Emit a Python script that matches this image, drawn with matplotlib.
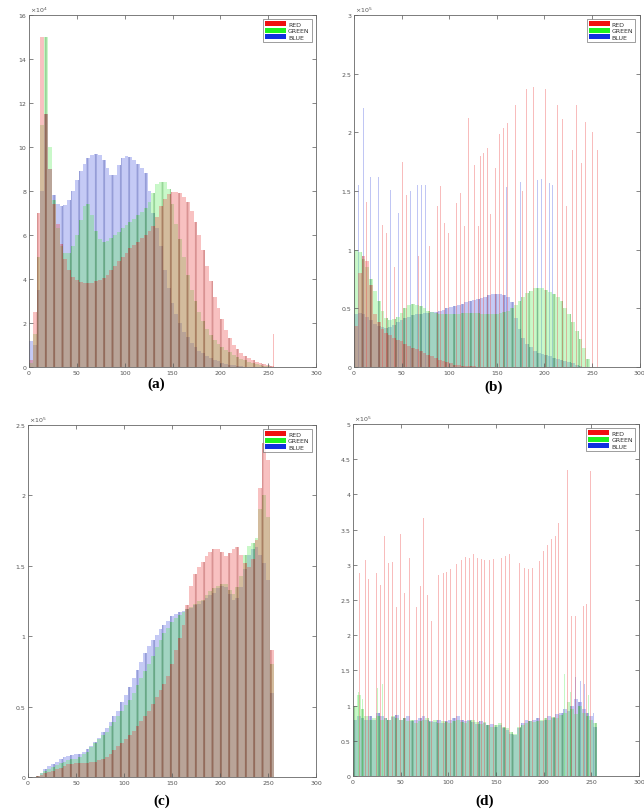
import numpy as np
import matplotlib
matplotlib.use('Agg')
import matplotlib.pyplot as plt
from matplotlib.patches import Patch

# ---------------- data ----------------
# intensity levels (groups of 4 grey levels); values = counts per level
bins4 = np.arange(0, 256, 4)

# (a)  units of 1e4
a_red = [0.3, 2.5, 7.0, 15.0, 11.5, 9.0, 7.4, 6.5,
         5.6, 4.9, 4.4, 4.1, 3.95, 3.85, 3.8, 3.8,
         3.82, 3.9, 3.95, 4.05, 4.2, 4.4, 4.6, 4.8,
         5.0, 5.2, 5.4, 5.55, 5.7, 5.85, 6.0, 6.2,
         6.4, 6.8, 7.3, 7.65, 7.85, 7.95, 7.95, 7.9,
         7.75, 7.5, 7.1, 6.6, 6.0, 5.3, 4.6, 3.9,
         3.2, 2.7, 2.2, 1.7, 1.3, 1.0, 0.8, 0.62,
         0.5, 0.4, 0.32, 0.25, 0.18, 0.12, 0.08, 0.03]
a_green = [0.2, 1.5, 5.0, 11.0, 15.0, 10.0, 7.6, 6.3,
           5.5, 5.2, 5.2, 5.5, 6.0, 6.7, 7.3, 7.4,
           6.9, 6.2, 5.8, 5.7, 5.75, 5.85, 6.0, 6.15,
           6.3, 6.45, 6.6, 6.75, 6.9, 7.05, 7.25, 7.5,
           7.9, 8.3, 8.4, 8.4, 8.1, 7.4, 6.5, 5.8,
           5.0, 4.2, 3.5, 3.0, 2.5, 2.1, 1.75, 1.45,
           1.25, 1.05, 0.9, 0.78, 0.66, 0.56, 0.46, 0.38,
           0.3, 0.24, 0.19, 0.14, 0.1, 0.06, 0.03, 0.01]
a_blue = [1.2, 1.0, 3.5, 8.0, 11.5, 9.0, 7.8, 7.4,
          7.3, 7.35, 7.6, 8.0, 8.5, 8.9, 9.25, 9.5,
          9.65, 9.7, 9.65, 9.4, 9.05, 8.75, 8.75, 9.2,
          9.5, 9.6, 9.55, 9.4, 9.25, 9.05, 8.8, 8.0,
          7.0, 6.3, 5.5, 4.4, 3.6, 2.9, 2.4, 2.0,
          1.6, 1.35, 1.1, 0.9, 0.75, 0.62, 0.52, 0.42,
          0.34, 0.27, 0.2, 0.15, 0.11, 0.08, 0.05, 0.03,
          0.02, 0.01, 0.01, 0, 0, 0, 0, 0]
a_red_spk_x = [256]
a_red_spk_y = [1.5]

# (b)  units of 1e5
b_red = [0.35, 0.8, 0.95, 0.9, 0.7, 0.45, 0.38, 0.32,
         0.29, 0.27, 0.25, 0.23, 0.22, 0.2, 0.18, 0.16,
         0.15, 0.14, 0.12, 0.1, 0.09, 0.08, 0.06, 0.05,
         0.04, 0.03, 0.02, 0.015, 0.01, 0.01, 0.005, 0.005,
         0, 0, 0, 0, 0, 0, 0, 0,
         0, 0, 0, 0, 0, 0, 0, 0,
         0, 0, 0, 0, 0, 0, 0, 0,
         0, 0, 0, 0, 0, 0, 0, 0]
b_green = [1.0, 0.98, 0.92, 0.85, 0.75, 0.65, 0.56, 0.48,
           0.42, 0.4, 0.41, 0.43, 0.46, 0.5, 0.53, 0.54,
           0.53, 0.52, 0.5, 0.48, 0.47, 0.46, 0.45, 0.45,
           0.45, 0.45, 0.45, 0.45, 0.46, 0.46, 0.46, 0.46,
           0.46, 0.45, 0.45, 0.45, 0.45, 0.45, 0.46, 0.47,
           0.48, 0.5, 0.53, 0.56, 0.6, 0.63, 0.65, 0.67,
           0.67, 0.67, 0.66, 0.64, 0.62, 0.6, 0.56, 0.5,
           0.45, 0.38, 0.31, 0.24, 0.16, 0.07, 0.0, 0.0]
b_blue = [0.45, 0.46, 0.45, 0.43, 0.4, 0.37, 0.35, 0.34,
          0.33, 0.34, 0.36, 0.38, 0.4, 0.42, 0.43, 0.44,
          0.45, 0.45, 0.46, 0.46, 0.47, 0.47, 0.48, 0.49,
          0.5, 0.51, 0.52, 0.53, 0.54, 0.55, 0.56, 0.57,
          0.58, 0.59, 0.6, 0.61, 0.62, 0.62, 0.62, 0.61,
          0.6, 0.55, 0.42, 0.32, 0.25, 0.2, 0.17, 0.14,
          0.12, 0.11, 0.1, 0.09, 0.08, 0.07, 0.06, 0.05,
          0.04, 0.03, 0.02, 0.01, 0, 0, 0, 0]
b_red_spk_x = [1, 13, 22, 30, 34, 43, 51, 55, 63, 68,
               79, 84, 88, 91, 95, 99, 104, 108, 112, 116,
               120, 124, 127, 131, 133, 136, 140, 143, 145, 149,
               153, 157, 161, 165, 170, 177, 181, 189, 201, 214,
               219, 223, 227, 230, 234, 239, 243, 247, 251, 256]
b_red_spk_y = [2.72, 1.41, 1.14, 1.21, 1.14, 0.85, 1.75, 1.47, 1.41, 0.95,
               1.03, 1.10, 1.37, 1.54, 1.23, 1.14, 1.77, 1.40, 1.48, 1.2,
               2.12, 1.68, 1.72, 1.2, 1.80, 1.82, 1.87, 1.3, 1.89, 1.7,
               1.99, 2.04, 2.08, 1.9, 2.23, 1.5, 2.37, 2.39, 2.37, 2.23,
               2.11, 1.37, 1.97, 1.85, 2.23, 1.74, 2.09, 1.72, 2.0, 1.85]
b_blue_spk_x = [5, 10, 17, 26, 38, 41, 47, 59, 67, 71, 75,
                160, 175, 185, 193, 197, 205, 209]
b_blue_spk_y = [1.55, 2.21, 1.62, 1.62, 1.51, 1.55, 1.31, 1.5, 1.55, 1.55, 1.55,
                1.53, 1.58, 1.6, 1.59, 1.6, 1.57, 1.55]

# (c)  units of 1e5
c_red = [0, 0, 0.005, 0.015, 0.025, 0.035, 0.045, 0.055,
         0.065, 0.08, 0.09, 0.095, 0.1, 0.1, 0.1, 0.1,
         0.105, 0.11, 0.12, 0.13, 0.14, 0.16, 0.19, 0.22,
         0.245, 0.27, 0.3, 0.33, 0.365, 0.4, 0.43, 0.47,
         0.52, 0.57, 0.62, 0.66, 0.72, 0.8, 0.9, 0.99,
         1.08, 1.22, 1.36, 1.44, 1.49, 1.53, 1.57, 1.6,
         1.62, 1.62, 1.6, 1.57, 1.59, 1.62, 1.63, 1.58,
         1.52, 1.49, 1.55, 1.68, 2.05, 2.37, 2.25, 0.9]
c_green = [0, 0, 0.01, 0.025, 0.04, 0.055, 0.07, 0.085,
           0.1, 0.11, 0.12, 0.125, 0.13, 0.14, 0.16, 0.18,
           0.21, 0.24, 0.27, 0.3, 0.32, 0.36, 0.39, 0.43,
           0.47, 0.51, 0.55, 0.6, 0.65, 0.7, 0.75, 0.8,
           0.86, 0.92, 0.97, 1.02, 1.06, 1.1, 1.13, 1.15,
           1.17, 1.19, 1.21, 1.23, 1.25, 1.26, 1.29, 1.32,
           1.34, 1.36, 1.37, 1.37, 1.33, 1.3, 1.35, 1.43,
           1.58, 1.64, 1.66, 1.7, 1.9, 2.0, 1.85, 0.8]
c_blue = [0, 0, 0.01, 0.03, 0.06, 0.08, 0.095, 0.11,
          0.125, 0.14, 0.15, 0.155, 0.16, 0.165, 0.18, 0.2,
          0.22, 0.25, 0.28, 0.32, 0.35, 0.39, 0.43, 0.47,
          0.53, 0.58, 0.64, 0.7, 0.76, 0.82, 0.88, 0.93,
          0.97, 1.01, 1.05, 1.08, 1.11, 1.14, 1.16, 1.17,
          1.18, 1.19, 1.2, 1.22, 1.23, 1.25, 1.27, 1.29,
          1.31, 1.34, 1.36, 1.35, 1.3, 1.26, 1.27, 1.35,
          1.48, 1.58, 1.62, 1.63, 1.58, 1.52, 1.4, 0.6]

# (d)  units of 1e5
d_green = [1.0, 1.15, 0.95, 0.85, 0.8, 0.82, 0.85, 0.8,
           0.83, 0.8, 0.85, 0.82, 0.8, 0.83, 0.78, 0.8,
           0.75, 0.78, 0.8, 0.82, 0.77, 0.8, 0.75, 0.78,
           0.76, 0.75, 0.78, 0.8, 0.77, 0.75, 0.78, 0.8,
           0.76, 0.74, 0.77, 0.73, 0.7, 0.72, 0.75, 0.7,
           0.68, 0.62, 0.6, 0.7, 0.72, 0.75, 0.78, 0.76,
           0.78, 0.8, 0.82, 0.8, 0.84, 0.82, 0.86, 0.9,
           1.05, 0.95, 0.88, 1.0, 0.9, 0.85, 0.8, 0.75]
d_blue = [0.8, 0.85, 0.82, 0.8, 0.85, 0.8, 0.9, 0.85,
          0.82, 0.8, 0.84, 0.86, 0.8, 0.82, 0.85, 0.78,
          0.8, 0.82, 0.85, 0.8, 0.78, 0.76, 0.8, 0.75,
          0.78, 0.8, 0.82, 0.85, 0.8, 0.78, 0.8, 0.76,
          0.74, 0.78, 0.75, 0.72, 0.74, 0.7, 0.72, 0.68,
          0.66, 0.6, 0.58, 0.68, 0.75, 0.8, 0.78, 0.8,
          0.82, 0.78, 0.8, 0.85, 0.82, 0.88, 0.9, 0.95,
          0.92, 1.0, 1.1, 1.05, 0.95, 0.9, 0.85, 0.7]
d_red_spk_x = [1, 7, 13, 16, 21, 25, 29, 33, 37, 41,
               46, 50, 54, 59, 63, 67, 71, 74, 78, 82,
               86, 90, 95, 98, 102, 106, 109, 114, 118, 122,
               126, 131, 135, 138, 143, 147, 151, 156, 160, 164,
               175, 180, 184, 188, 192, 196, 200, 204, 208, 212,
               216, 225, 229, 233, 237, 242, 245, 249, 256]
d_red_spk_y = [3.15, 2.89, 3.07, 2.8, 2.51, 2.89, 2.72, 3.41, 3.02, 3.04,
               2.4, 3.44, 2.6, 3.1, 3.3, 2.4, 2.7, 3.67, 2.57, 2.2,
               4.19, 2.86, 2.89, 2.9, 2.94, 2.96, 3.01, 3.07, 3.11, 3.1,
               3.16, 3.09, 3.08, 3.07, 3.07, 3.08, 3.09, 3.1, 3.13, 3.15,
               3.02, 2.96, 2.94, 2.96, 3.0, 3.05, 3.2, 3.28, 3.36, 3.41,
               3.6, 4.34, 2.27, 2.27, 4.66, 2.42, 2.44, 4.33, 3.63]
d_green_spk_x = [1, 6, 10, 26, 31, 222, 228, 247]
d_green_spk_y = [1.82, 1.2, 1.1, 1.25, 1.3, 1.45, 1.2, 1.15]
d_blue_spk_x = [233, 239, 243, 252]
d_blue_spk_y = [1.4, 1.35, 1.3, 0.9]

x_ticks = [0, 50, 100, 150, 200, 250, 300]
legend_labels = ['RED', 'GREEN', 'BLUE']
panel_labels = ['(a)', '(b)', '(c)', '(d)']

# ---------------- drawing ----------------
plt.rcParams['hatch.linewidth'] = 1.3
FACE = {'r': (0.92, 0.25, 0.25), 'g': (0.35, 0.92, 0.35), 'b': (0.3, 0.36, 0.88)}
STRIPE = {'r': (0.6, 0.2, 0.2), 'g': (0.2, 0.55, 0.2), 'b': (0.2, 0.25, 0.6)}
LEG = {'r': '#f01010', 'g': '#20f020', 'b': '#1030e0'}
ALPHA = 0.32

fig = plt.figure(figsize=(6.44, 8.12), dpi=100)
W, H = 644.0, 812.0


def add_ax(l, t, r, b):
    return fig.add_axes([l / W, 1 - b / H, (r - l) / W, (b - t) / H])


panels = [
    dict(box=(29, 16, 316, 368), dense=(a_blue, a_green, a_red),
         spikes=(None, None, (a_red_spk_x, a_red_spk_y)),
         ymax=16, yticks=[0, 2, 4, 6, 8, 10, 12, 14, 16], exp='4',
         lab=(156, 384)),
    dict(box=(354, 16, 639.5, 368), dense=(b_blue, b_green, b_red),
         spikes=((b_blue_spk_x, b_blue_spk_y), None, (b_red_spk_x, b_red_spk_y)),
         ymax=3, yticks=[0, 0.5, 1, 1.5, 2, 2.5, 3], exp='5',
         lab=(494, 387)),
    dict(box=(28, 426, 316, 778), dense=(c_blue, c_green, c_red),
         spikes=(None, None, None),
         ymax=2.5, yticks=[0, 0.5, 1, 1.5, 2, 2.5], exp='5',
         lab=(162, 801)),
    dict(box=(353, 425, 639, 777), dense=(d_blue, d_green, None),
         spikes=((d_blue_spk_x, d_blue_spk_y), (d_green_spk_x, d_green_spk_y),
                 (d_red_spk_x, d_red_spk_y)),
         ymax=5, yticks=[0, 0.5, 1, 1.5, 2, 2.5, 3, 3.5, 4, 4.5, 5], exp='5',
         lab=(485, 801)),
]

for p, plab in zip(panels, panel_labels):
    ax = add_ax(*p['box'])
    for vals, spk, k in zip(p['dense'], p['spikes'], ('b', 'g', 'r')):
        if vals is not None:
            ax.bar(bins4, vals, width=4, align='edge', color=FACE[k], alpha=ALPHA,
                   edgecolor=STRIPE[k], linewidth=0, hatch='||')
        if spk is not None:
            ax.bar(spk[0], spk[1], width=0.9, color=FACE[k], alpha=0.35, linewidth=0)
    ax.set_xlim(0, 300)
    ax.set_ylim(0, p['ymax'])
    ax.set_xticks(x_ticks)
    ax.set_xticklabels([str(v) for v in x_ticks])
    ax.set_yticks(p['yticks'])
    ax.set_yticklabels(['%g' % v for v in p['yticks']])
    ax.tick_params(direction='in', length=3, width=0.5, labelsize=4.5,
                   labelcolor='#555555', color='#555555', top=True, right=True,
                   pad=2)
    for s in ax.spines.values():
        s.set_color('#666666')
        s.set_linewidth(0.6)
    ax.text(0.005, 1.003, r'$\times10^{%s}$' % p['exp'], transform=ax.transAxes,
            fontsize=4.5, color='#555555', ha='left', va='bottom')
    handles = [Patch(facecolor=LEG['r'], edgecolor='none'),
               Patch(facecolor=LEG['g'], edgecolor='none'),
               Patch(facecolor=LEG['b'], edgecolor='none')]
    leg = ax.legend(handles, legend_labels, loc='upper right', fontsize=4.5,
                    frameon=True, fancybox=False, edgecolor='#555555',
                    handlelength=3.4, handleheight=0.9, borderpad=0.3,
                    labelspacing=0.1, handletextpad=0.3, borderaxespad=0.7)
    leg.get_frame().set_linewidth(0.5)
    for t in leg.get_texts():
        t.set_color('#333333')
    lx, ly = p['lab']
    fig.text(lx / W, 1 - ly / H, plab, ha='center', va='center', fontsize=11,
             fontweight='bold', family='Liberation Serif')

fig.savefig('out.png', dpi=100, facecolor='white')
